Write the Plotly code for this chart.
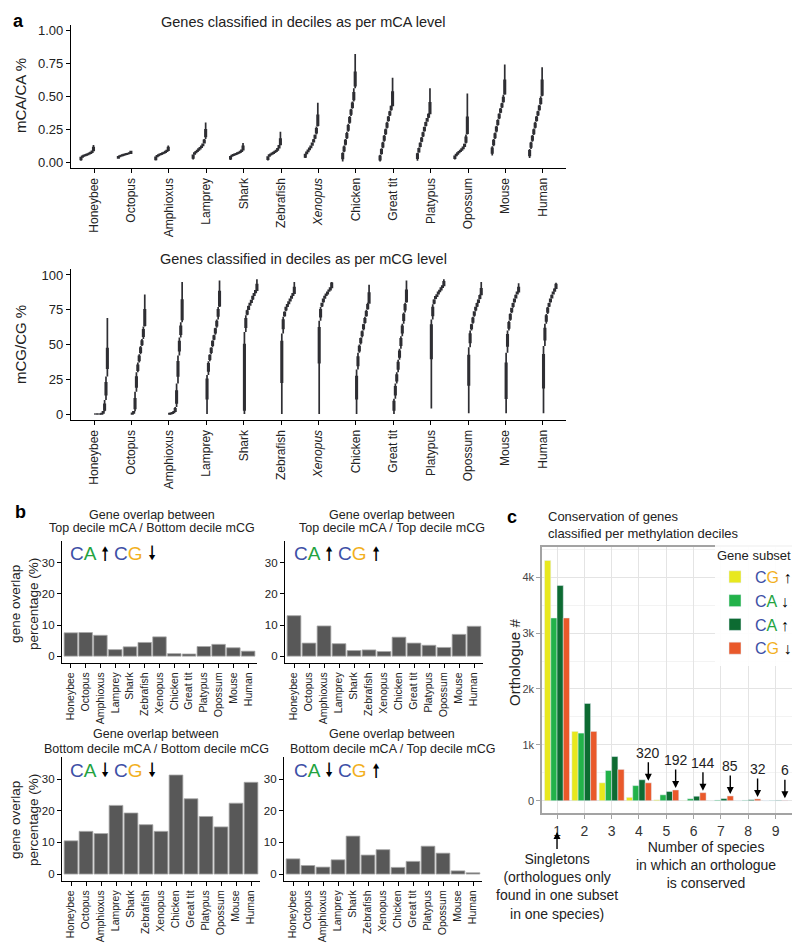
import plotly.graph_objects as go

# The page body has an 8px margin: the figure is made 8px smaller and all
# reference pixel positions are shifted by that margin.
PAGE_W, PAGE_H, BODY = 800, 946, 8
W, H = PAGE_W - BODY, PAGE_H - BODY
FONT = "Liberation Sans, Arial, sans-serif"

SPECIES = ["Honeybee", "Octopus", "Amphioxus", "Lamprey", "Shark", "Zebrafish", "Xenopus",
           "Chicken", "Great tit", "Platypus", "Opossum", "Mouse", "Human"]
TICKTEXT_A = ["<i>Xenopus</i>" if s == "Xenopus" else s for s in SPECIES]

# ---------- panel a : mCA deciles (median per decile, decile edges, top-decile box) ----------
CA_MED = [
    [0.030, 0.042, 0.048, 0.052, 0.056, 0.060, 0.064, 0.070, 0.078, 0.098],
    [0.038, 0.045, 0.049, 0.052, 0.055, 0.058, 0.061, 0.064, 0.068, 0.074],
    [0.030, 0.045, 0.052, 0.057, 0.062, 0.066, 0.071, 0.077, 0.085, 0.100],
    [0.045, 0.065, 0.075, 0.085, 0.095, 0.105, 0.115, 0.130, 0.155, 0.220],
    [0.035, 0.048, 0.053, 0.058, 0.062, 0.066, 0.071, 0.077, 0.086, 0.105],
    [0.032, 0.050, 0.058, 0.064, 0.070, 0.077, 0.085, 0.096, 0.115, 0.155],
    [0.050, 0.070, 0.085, 0.100, 0.115, 0.135, 0.160, 0.190, 0.235, 0.320],
    [0.050, 0.100, 0.150, 0.200, 0.260, 0.320, 0.380, 0.430, 0.490, 0.630],
    [0.030, 0.080, 0.130, 0.180, 0.230, 0.280, 0.330, 0.370, 0.410, 0.480],
    [0.050, 0.090, 0.130, 0.170, 0.210, 0.250, 0.290, 0.320, 0.350, 0.410],
    [0.040, 0.055, 0.065, 0.075, 0.085, 0.095, 0.108, 0.125, 0.165, 0.280],
    [0.090, 0.150, 0.200, 0.250, 0.300, 0.350, 0.390, 0.430, 0.470, 0.570],
    [0.070, 0.130, 0.180, 0.230, 0.280, 0.330, 0.370, 0.410, 0.460, 0.570],
]
CA_EDGE = [
    [0.010, 0.037, 0.045, 0.050, 0.054, 0.058, 0.062, 0.067, 0.074, 0.086, 0.130],
    [0.025, 0.042, 0.047, 0.051, 0.054, 0.057, 0.060, 0.063, 0.066, 0.068, 0.085],
    [0.012, 0.040, 0.049, 0.055, 0.060, 0.064, 0.069, 0.074, 0.081, 0.090, 0.125],
    [0.020, 0.058, 0.070, 0.080, 0.090, 0.100, 0.110, 0.122, 0.140, 0.175, 0.300],
    [0.015, 0.044, 0.051, 0.056, 0.060, 0.064, 0.069, 0.074, 0.081, 0.093, 0.145],
    [0.012, 0.044, 0.055, 0.061, 0.067, 0.074, 0.081, 0.090, 0.105, 0.130, 0.230],
    [0.030, 0.062, 0.078, 0.092, 0.108, 0.125, 0.148, 0.175, 0.210, 0.270, 0.450],
    [0.005, 0.075, 0.125, 0.175, 0.230, 0.290, 0.350, 0.405, 0.460, 0.560, 0.820],
    [0.005, 0.055, 0.105, 0.155, 0.205, 0.255, 0.305, 0.350, 0.390, 0.430, 0.640],
    [0.010, 0.070, 0.110, 0.150, 0.190, 0.230, 0.270, 0.305, 0.335, 0.370, 0.560],
    [0.020, 0.048, 0.060, 0.070, 0.080, 0.090, 0.101, 0.115, 0.140, 0.210, 0.520],
    [0.050, 0.120, 0.175, 0.225, 0.275, 0.325, 0.370, 0.410, 0.450, 0.510, 0.740],
    [0.030, 0.100, 0.155, 0.205, 0.255, 0.305, 0.350, 0.390, 0.435, 0.500, 0.720],
]
CA_TOP_Q1 = [0.088, 0.068, 0.090, 0.195, 0.095, 0.135, 0.280, 0.580, 0.430, 0.370, 0.220, 0.520, 0.510]
CA_TOP_Q3 = [0.110, 0.080, 0.110, 0.245, 0.120, 0.175, 0.355, 0.680, 0.530, 0.450, 0.340, 0.620, 0.620]

# ---------- panel a : mCG deciles ----------
CG_MED = [
    [0, 0, 0, 0, 0, 0.2, 1, 4, 18, 38],
    [0.3, 1, 6, 23, 33, 40, 46, 51, 58, 70],
    [0.2, 0.4, 0.7, 1.2, 2.5, 11, 33, 49, 60, 75],
    [20, 34, 41, 46, 51, 55, 60, 65, 73, 84],
    [25, 66, 73, 76, 79, 81, 84, 86, 88, 91],
    [43, 65, 72, 76, 78, 80, 82, 84, 86, 89],
    [55, 73, 79, 82, 84, 86, 87, 89, 90, 92],
    [21, 38, 47, 53, 58, 63, 67, 72, 77, 84],
    [6, 17, 26, 35, 43, 52, 61, 70, 77, 85],
    [56, 74, 81, 84, 85, 87, 88.5, 90, 91.5, 93.5],
    [34.5, 55, 63, 67.5, 72.5, 76, 78.5, 81, 84, 88],
    [26, 54, 64, 70, 75, 78.5, 82, 84.5, 87, 89],
    [33, 58, 69, 75, 78.5, 82, 84.5, 87, 89, 91.5],
]
CG_EDGE = [
    [0, 0, 0, 0, 0, 0, 0.5, 2, 10, 27, 69],
    [0, 0.5, 2, 16, 30, 37, 43, 49, 54, 63, 86],
    [0, 0.3, 0.5, 1, 1.8, 5, 22, 42, 55, 66, 95],
    [0, 28, 38, 43, 48, 53, 57, 62, 68, 77, 96],
    [0, 59, 71, 75, 78, 80, 82, 85, 87, 89, 97],
    [0, 58, 70, 74, 77, 79, 81, 83, 85, 87, 95],
    [0, 67, 77, 80, 83, 85, 86, 88, 89, 91, 95],
    [0, 32, 44, 50, 55, 60, 65, 70, 75, 80, 93],
    [0, 11, 22, 30, 39, 47, 56, 65, 73, 80, 96],
    [4, 68, 79, 82.5, 84.5, 86, 88, 89, 91, 92.5, 97],
    [0.5, 48, 60, 65, 70, 74, 77, 80, 82.5, 86, 95],
    [0.5, 44, 60, 67, 72.5, 76.5, 80, 83, 86, 88, 94],
    [0.5, 49, 65, 72, 77, 80, 83, 86, 88, 90.5, 94.5],
]
CG_BOT_Q1 = [0, 0, 0, 11, 3, 23, 37, 11, 3, 40, 21, 11.5, 19]
CG_BOT_Q3 = [0, 0.5, 0.3, 25, 50, 52, 62, 27, 9, 64, 42, 36.5, 42.5]
CG_TOP_Q1 = [33, 64, 68, 78, 89, 87, 91, 80, 81, 92.5, 86, 88, 90.5]
CG_TOP_Q3 = [47, 75, 82, 88, 93, 91, 94, 87, 89, 95, 90, 91, 93]

# ---------- panel b : gene overlap percentages ----------
OV_TOPCA_BOTCG = [7.5, 7.6, 6.7, 2.1, 3.0, 4.4, 6.2, 0.8, 0.7, 3.1, 3.8, 2.7, 1.6]
OV_TOPCA_TOPCG = [13.0, 4.2, 9.7, 4.0, 1.8, 2.0, 1.5, 6.1, 4.2, 3.5, 2.8, 7.0, 9.6]
OV_BOTCA_BOTCG = [10.5, 13.5, 12.8, 21.7, 19.3, 15.6, 13.5, 31.3, 23.8, 18.2, 14.9, 22.4, 29.0]
OV_BOTCA_TOPCG = [4.8, 2.7, 2.2, 4.5, 12.0, 6.0, 7.7, 2.1, 4.0, 8.8, 6.6, 1.0, 0.4]

# ---------- panel c : orthologue conservation ----------
N_SPECIES = [1, 2, 3, 4, 5, 6, 7, 8, 9]
C_CG_UP = [4300, 1240, 320, 60, 15, 5, 2, 1, 0]
C_CA_DOWN = [3270, 1210, 540, 270, 105, 35, 12, 8, 4]
C_CA_UP = [3850, 1740, 790, 375, 165, 80, 38, 18, 7]
C_CG_DOWN = [3270, 1240, 560, 320, 192, 144, 85, 32, 6]

BLUE, GREEN, GOLD = "#3d4fa6", "#23a33f", "#f2b01e"


def px(x):
    return (x - BODY) / W


def py(y):
    return 1 - (y - BODY) / H


fig = go.Figure()


def add_deciles(med, edge, bq1, bq3, tq1, tq3, xa, ya, fill):
    for k in range(10):
        q1, q3, md, lo, hi = [], [], [], [], []
        for s in range(len(SPECIES)):
            m, a, b = med[s][k], edge[s][k], edge[s][k + 1]
            if k == 0 and bq1 is not None:
                l1, l3 = bq1[s], bq3[s]
            elif k == 9:
                l1, l3 = tq1[s], tq3[s]
            else:
                l1, l3 = (a + m) / 2, (m + b) / 2
            l1 = max(a, min(l1, m))
            l3 = min(b, max(l3, m))
            q1.append(l1); q3.append(l3); md.append(m); lo.append(a); hi.append(b)
        fig.add_trace(go.Box(
            x=SPECIES, q1=q1, median=md, q3=q3, lowerfence=lo, upperfence=hi,
            xaxis=xa, yaxis=ya, boxpoints=False, whiskerwidth=0,
            line=dict(color="#2e2e33", width=1.7), fillcolor=fill,
            showlegend=False, hoverinfo="skip"))


add_deciles(CA_MED, CA_EDGE, None, None, CA_TOP_Q1, CA_TOP_Q3, "x", "y", "#4e5270")
add_deciles(CG_MED, CG_EDGE, CG_BOT_Q1, CG_BOT_Q3, CG_TOP_Q1, CG_TOP_Q3, "x2", "y2", "#7b7b7b")

for vals, xa, ya in [(OV_TOPCA_BOTCG, "x3", "y3"), (OV_TOPCA_TOPCG, "x4", "y4"),
                     (OV_BOTCA_BOTCG, "x5", "y5"), (OV_BOTCA_TOPCG, "x6", "y6")]:
    fig.add_trace(go.Bar(x=SPECIES, y=vals, xaxis=xa, yaxis=ya,
                         marker=dict(color="#585858", line=dict(color="#a8a8a8", width=0.8)),
                         showlegend=False, hoverinfo="skip"))


def lab(c1, l1, c2, l2, arrow):
    return (f'<span style="color:{c1}">{l1}</span><span style="color:{c2}">{l2}</span>'
            f' <span style="color:black">{arrow}</span>')


C_SERIES = [
    (C_CG_UP, "#e8e81e", lab(BLUE, "C", GOLD, "G", "↑")),
    (C_CA_DOWN, "#22b24a", lab(BLUE, "C", GREEN, "A", "↓")),
    (C_CA_UP, "#0d6b32", lab(BLUE, "C", GREEN, "A", "↑")),
    (C_CG_DOWN, "#e9592b", lab(BLUE, "C", GOLD, "G", "↓")),
]
for vals, col, name in C_SERIES:
    fig.add_trace(go.Bar(x=N_SPECIES, y=vals, name=name, marker_color=col,
                         xaxis="x7", yaxis="y7", hoverinfo="skip"))

axline = dict(showline=True, linecolor="black", linewidth=1.3, ticks="outside", ticklen=4,
              tickcolor="black", showgrid=False, zeroline=False, automargin=False)

layout = dict(
    width=W, height=H, margin=dict(l=0, r=0, t=0, b=0, autoexpand=False),
    paper_bgcolor="white", plot_bgcolor="white",
    font=dict(family=FONT, color="#222"),
    boxmode="group", boxgap=0.257, boxgroupgap=0.0,
    barmode="group", bargap=0.085, bargroupgap=0,
)

# panel a axes
for i, (ytop, ybot, rng, tv, tt) in enumerate([
        (25, 168, [-0.045, 1.04], [0, 0.25, 0.5, 0.75, 1.0], ["0.00", "0.25", "0.50", "0.75", "1.00"]),
        (269, 420, [-4.3, 104.3], [0, 25, 50, 75, 100], ["0", "25", "50", "75", "100"])]):
    sfx = "" if i == 0 else "2"
    layout["xaxis" + sfx] = dict(axline, domain=[px(71), px(566)], anchor="y" + sfx,
                                 type="category", range=[-0.62, 12.62], tickangle=-90,
                                 tickvals=SPECIES, ticktext=TICKTEXT_A,
                                 tickfont=dict(size=12, color="#222"))
    layout["yaxis" + sfx] = dict(axline, domain=[py(ybot), py(ytop)], anchor="x" + sfx,
                                 range=rng, tickvals=tv, ticktext=tt,
                                 tickfont=dict(size=13, color="#222"))

# panel b axes
B_POS = [("3", 62, 257, 541, 663), ("4", 285, 483, 541, 663),
         ("5", 62, 260, 757, 881), ("6", 284, 482, 757, 881)]
for sfx, x0, x1, y0, y1 in B_POS:
    layout["xaxis" + sfx] = dict(axline, domain=[px(x0), px(x1)], anchor="y" + sfx,
                                 type="category", range=[-0.6, 12.6], tickangle=-90,
                                 tickfont=dict(size=10.5, color="#222"))
    layout["yaxis" + sfx] = dict(axline, domain=[py(y1), py(y0)], anchor="x" + sfx,
                                 range=[-2.2, 37], tickvals=[0, 10, 20, 30],
                                 tickfont=dict(size=11.5, color="#222"))

# panel c axes
layout["xaxis7"] = dict(domain=[px(542), px(793)], anchor="y7", range=[0.45, 9.64],
                        tickvals=N_SPECIES, showline=True, mirror=True, linecolor="#a3a3a3",
                        linewidth=1.5, ticks="outside", ticklen=4, tickcolor="#a3a3a3",
                        showgrid=True, gridcolor="#e4e4e4", gridwidth=1, zeroline=False,
                        automargin=False, tickfont=dict(size=14, color="#333"))
layout["yaxis7"] = dict(domain=[py(813), py(547)], anchor="x7", range=[-220, 4540],
                        tickmode="linear", tick0=0, dtick=1000, tickformat="~s",
                        showline=True, mirror=True, linecolor="#a3a3a3", linewidth=1.5,
                        ticks="outside", ticklen=4, tickcolor="#a3a3a3",
                        showgrid=True, gridcolor="#e4e4e4", gridwidth=1, zeroline=False,
                        automargin=False,
                        minor=dict(dtick=500, showgrid=True, gridcolor="#f3f3f3", ticks=""),
                        tickfont=dict(size=11, color="#444"))

layout["legend"] = dict(x=px(797), y=py(543), xanchor="right", yanchor="top",
                        bgcolor="rgba(255,255,255,0.9)", borderwidth=0,
                        title=dict(text="Gene subset", font=dict(size=13, color="#222"), side="top"),
                        font=dict(size=16, family=FONT), tracegroupgap=0, itemwidth=30)

anns = []


def ann(text, x, y, size, **kw):
    d = dict(text=text, x=px(x), y=py(y), xref="paper", yref="paper", showarrow=False,
             xanchor="center", yanchor="middle",
             font=dict(size=size, family=FONT, color=kw.pop("color", "#222")))
    d.update(kw)
    anns.append(d)


ann("<b>a</b>", 18, 9, 18, color="black", yanchor="top")
ann("<b>b</b>", 20, 512, 18, color="black")
ann("<b>c</b>", 512, 517, 18, color="black")
ann("Genes classified in deciles as per mCA level", 303, 22, 14.5)
ann("Genes classified in deciles as per mCG level", 303, 259, 14.5)
ann("mCA/CA %", 20, 96, 15, textangle=-90)
ann("mCG/CG %", 20, 345, 15, textangle=-90)

B_TITLES = [("Top decile mCA / Bottom decile mCG", 152, 515, 528),
            ("Top decile mCA / Top decile mCG", 392, 515, 528),
            ("Bottom decile mCA / Bottom decile mCG", 156, 734, 749),
            ("Bottom decile mCA / Top decile mCG", 392, 734, 749)]
for t, cx, y1, y2 in B_TITLES:
    ann("Gene overlap between", cx, y1, 12.5)
    ann(t, cx, y2, 12.5)
ann("gene overlap<br>percentage (%)", 24, 604, 13.5, textangle=-90)
ann("gene overlap<br>percentage (%)", 24, 820, 13.5, textangle=-90)

B_TAGS = [(lab(BLUE, "C", GREEN, "A", "🠕"), lab(BLUE, "C", GOLD, "G", "🠗"), 68, 553),
          (lab(BLUE, "C", GREEN, "A", "🠕"), lab(BLUE, "C", GOLD, "G", "🠕"), 292, 553),
          (lab(BLUE, "C", GREEN, "A", "🠗"), lab(BLUE, "C", GOLD, "G", "🠗"), 68, 770),
          (lab(BLUE, "C", GREEN, "A", "🠗"), lab(BLUE, "C", GOLD, "G", "🠕"), 292, 770)]
for a1, a2, x, y in B_TAGS:
    ann(a1 + " " + a2, x, y, 19, xanchor="left")

ann("Conservation of genes<br>classified per methylation deciles", 546, 525, 13,
    xanchor="left", align="left")
ann("Orthologue #", 514, 662, 15, textangle=-90)
ann("Number of species<br>in which an orthologue<br>is conserved", 706, 865, 14)

# arrows to the CG-down bars
w_bar = (1 - layout["bargap"]) / 4
off = 1.5 * w_bar
for n, v in zip(N_SPECIES[3:], C_CG_DOWN[3:]):
    anns.append(dict(text=str(v), x=n + off, y=v, xref="x7", yref="y7", showarrow=True,
                     ax=0, ay=-30, arrowhead=2, arrowsize=1, arrowwidth=1.4, arrowcolor="black",
                     standoff=2, font=dict(size=14, family=FONT, color="#222")))
anns.append(dict(text="Singletons<br>(orthologues only<br>found in one subset<br>in one species)",
                 x=1, y=py(832), xref="x7", yref="paper", showarrow=True, ax=0, ay=54,
                 arrowhead=2, arrowsize=1, arrowwidth=1.4, arrowcolor="black",
                 font=dict(size=14, family=FONT, color="#222")))

layout["annotations"] = anns
fig.update_layout(**layout)
fig.write_html("out.html")
